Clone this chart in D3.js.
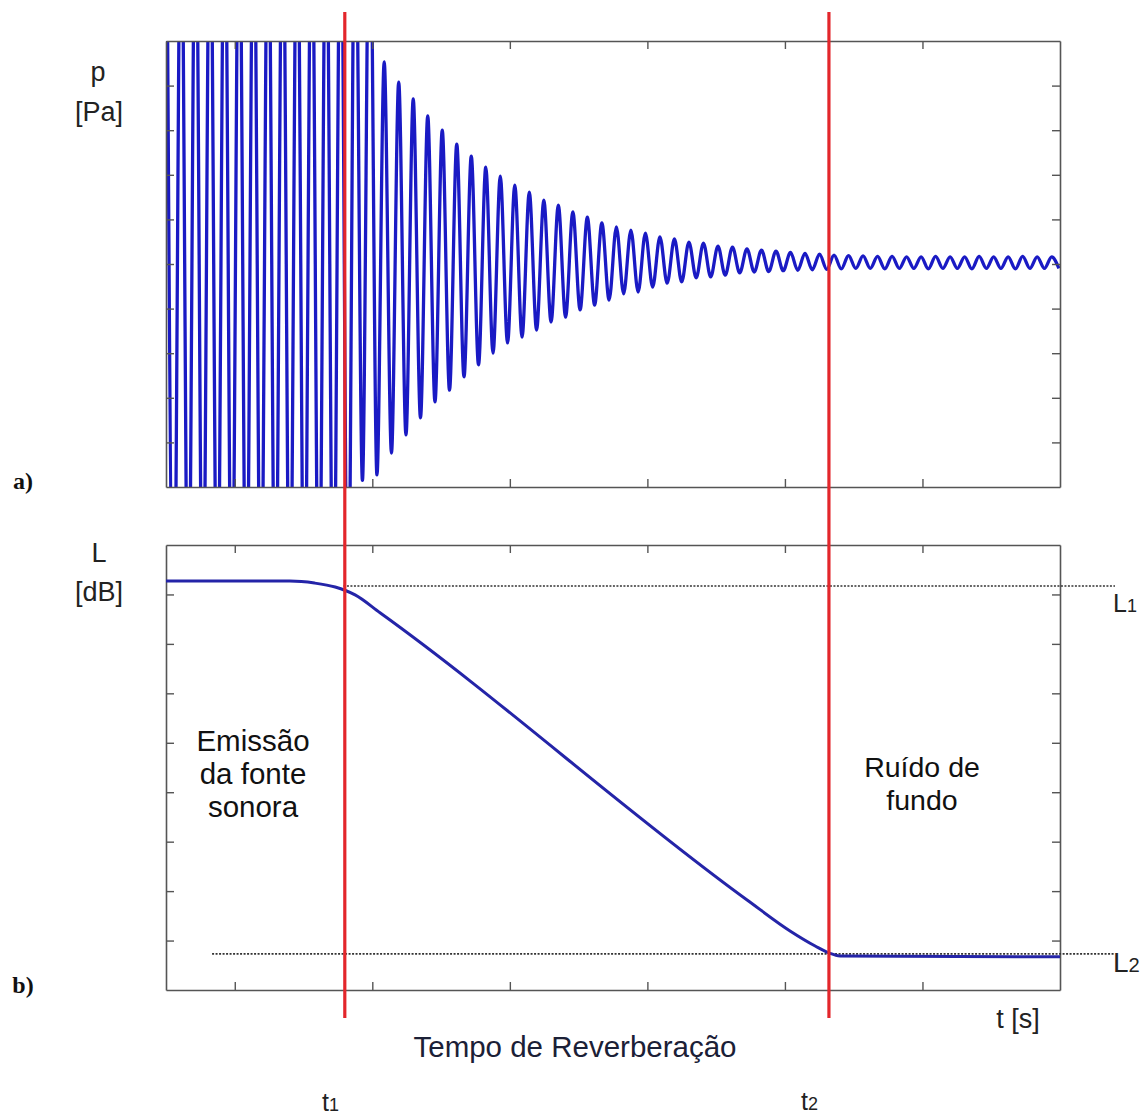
<!DOCTYPE html>
<html>
<head>
<meta charset="utf-8">
<script src="https://cdn.jsdelivr.net/npm/d3@7"></script>
<style>
  html, body { margin: 0; padding: 0; background: #fff; }
  text { font-family: "Liberation Sans", Arial, sans-serif; }
</style>
</head>
<body>
<div id="chart"></div>
<script>
// time axis ticks (shared by both panels)
const timeTicks = [0, 1, 2, 3, 4, 5];
const pressureTicks = [-4, -3, -2, -1, 0, 1, 2, 3, 4];
const levelTicks = [1, 2, 3, 4, 5, 6, 7, 8];

// instants marked by the red lines
const t1 = 0.80;
const t2 = 4.32;
// reference levels (dotted lines)
const levelL1 = 8.17;
const levelL2 = 0.73;

// oscillation: time of first crest and crest spacing
const crestStart = -0.496;
const crestSpacing = 0.1055;
// crest values (values past +/-5 are clipped by the frame)
const crestValues = [
  9, 9, 9, 9, 9, 9, 9, 9, 9, 9, 9, 9, 9, 9, 9,
  4.53, 4.08, 3.70, 3.32, 3.00, 2.69, 2.42, 2.17, 1.97, 1.77, 1.61, 1.43, 1.32,
  1.17, 1.05, 0.92, 0.83, 0.76, 0.69, 0.61, 0.56, 0.49, 0.47, 0.40, 0.38,
  0.34, 0.31, 0.29, 0.26, 0.24, 0.22, 0.20, 0.19, 0.18, 0.17, 0.17, 0.16,
  0.16, 0.17, 0.16, 0.16, 0.17, 0.16, 0.16, 0.17, 0.16, 0.16
];
// trough values, each half a spacing after its crest
const troughValues = [
  -9, -9, -9, -9, -9, -9, -9, -9, -9, -9, -9, -9, -9,
  -4.85, -4.73, -4.24, -3.83, -3.45, -3.09, -2.83, -2.53, -2.26, -2.00, -1.77,
  -1.64, -1.48, -1.30, -1.19, -1.03, -0.92, -0.81, -0.67, -0.63, -0.52, -0.43,
  -0.40, -0.31, -0.29, -0.25, -0.20,
  -0.18, -0.17, -0.15, -0.14, -0.13, -0.12, -0.11, -0.10, -0.10, -0.11, -0.10,
  -0.10, -0.11, -0.10, -0.10, -0.11, -0.10, -0.10, -0.11, -0.10, -0.10, -0.10
];

// sound level curve of panel b
const levelTimes  = [-0.5, 0.40, 0.58, 0.73, 0.875, 1.056, 3.725, 4.04, 4.22, 4.32, 4.40, 6.0];
const levelValues = [8.27, 8.27, 8.23, 8.15, 7.99, 7.63, 1.82, 1.19, 0.89, 0.75, 0.69, 0.67];

const W = 1142, H = 1117;
const svg = d3.select('#chart').append('svg')
  .attr('width', W).attr('height', H)
  .style('display', 'block');
svg.append('rect').attr('width', W).attr('height', H).attr('fill', '#fff');

const x = d3.scaleLinear().domain([-0.5, 6]).range([166, 1060]);
const ya = d3.scaleLinear().domain([-5, 5]).range([487, 41]);
const yb = d3.scaleLinear().domain([0, 9]).range([990, 545]);

const frameColor = '#555';

function frame(y, yTicks) {
  const g = svg.append('g');
  const [bottom, top] = y.range();
  g.append('g').attr('transform', `translate(0,${bottom})`)
    .call(d3.axisBottom(x).tickValues(timeTicks).tickSize(-8).tickSizeOuter(0).tickFormat(''));
  g.append('g').attr('transform', `translate(0,${top})`)
    .call(d3.axisTop(x).tickValues(timeTicks).tickSize(-8).tickSizeOuter(0).tickFormat(''));
  g.append('g').attr('transform', `translate(${x.range()[0]},0)`)
    .call(d3.axisLeft(y).tickValues(yTicks).tickSize(-8).tickSizeOuter(0).tickFormat(''));
  g.append('g').attr('transform', `translate(${x.range()[1]},0)`)
    .call(d3.axisRight(y).tickValues(yTicks).tickSize(-8).tickSizeOuter(0).tickFormat(''));
  g.selectAll('path.domain').attr('stroke', frameColor).attr('stroke-width', 1.6);
  g.selectAll('.tick line').attr('stroke', frameColor).attr('stroke-width', 1.4);
  return g;
}

// ---- panel a: pressure oscillation ----
svg.append('clipPath').attr('id', 'clipA')
  .append('rect')
  .attr('x', x.range()[0]).attr('y', ya.range()[1])
  .attr('width', x.range()[1] - x.range()[0])
  .attr('height', ya.range()[0] - ya.range()[1]);

const wave = [];
crestValues.forEach((v, i) => {
  wave.push({ t: crestStart + i * crestSpacing, p: v });
  wave.push({ t: crestStart + (i + 0.5) * crestSpacing, p: troughValues[i] });
});

svg.append('path')
  .datum(wave)
  .attr('clip-path', 'url(#clipA)')
  .attr('fill', 'none')
  .attr('stroke', '#1a1ac4')
  .attr('stroke-width', 3.3)
  .attr('d', d3.line().x(d => x(d.t)).y(d => ya(d.p)).curve(d3.curveMonotoneX));

frame(ya, pressureTicks);

// ---- panel b: sound level ----
frame(yb, levelTicks);

const dotted = [
  { from: t1 - 0.01, to: 6.40, level: levelL1 },
  { from: -0.165, to: 6.40, level: levelL2 }
];
svg.append('g').selectAll('line').data(dotted).enter().append('line')
  .attr('x1', d => x(d.from)).attr('x2', d => x(d.to))
  .attr('y1', d => yb(d.level)).attr('y2', d => yb(d.level))
  .attr('stroke', '#333').attr('stroke-width', 1.6)
  .attr('stroke-dasharray', '2,1.5');

const levelData = levelTimes.map((t, i) => ({ t, L: levelValues[i] }));
svg.append('path')
  .datum(levelData)
  .attr('fill', 'none')
  .attr('stroke', '#2424a8')
  .attr('stroke-width', 3)
  .attr('d', d3.line().x(d => x(d.t)).y(d => yb(d.L)).curve(d3.curveMonotoneX));

// ---- red markers ----
svg.append('g').selectAll('line').data([t1, t2]).enter().append('line')
  .attr('x1', d => x(d)).attr('x2', d => x(d))
  .attr('y1', 12).attr('y2', 1018)
  .attr('stroke', '#e3262b').attr('stroke-width', 3.2);

// ---- text ----
const txt = (s, px, py, opts = {}) => svg.append('text')
  .attr('x', px).attr('y', py)
  .attr('text-anchor', opts.anchor || 'middle')
  .attr('font-size', opts.size || 28)
  .attr('fill', opts.fill || '#222')
  .style('font-family', opts.family || null)
  .style('font-weight', opts.weight || null)
  .text(s);

txt('p', 98, 81, { size: 27 });
txt('[Pa]', 99, 121, { size: 27 });
txt('L', 99, 562, { size: 27 });
txt('[dB]', 99, 601, { size: 27 });

txt('a)', 23, 489, { size: 24, weight: 'bold', family: '"Liberation Serif", serif', fill: '#111' });
txt('b)', 23, 993, { size: 24, weight: 'bold', family: '"Liberation Serif", serif', fill: '#111' });

txt('Emissão', 253, 751, { size: 29.5, fill: '#111' });
txt('da fonte', 253, 784, { size: 29.5, fill: '#111' });
txt('sonora', 253, 817, { size: 29.5, fill: '#111' });

txt('Ruído de', 922, 777, { size: 28.5, fill: '#111' });
txt('fundo', 922, 810, { size: 28.5, fill: '#111' });

txt('t [s]', 1018, 1028, { size: 27 });
txt('Tempo de Reverberação', 575, 1057, { size: 29.5, fill: '#1b2036' });

function subLabel(main, sub, px, py, size) {
  const t = svg.append('text').attr('x', px).attr('y', py)
    .attr('font-size', size).attr('fill', '#222');
  t.append('tspan').text(main);
  t.append('tspan').attr('font-size', size * 0.72).text(sub);
}
subLabel('t', '1', 322, 1111, 25);
subLabel('t', '2', 801, 1110, 25);
subLabel('L', '1', 1113, 612, 25);
subLabel('L', '2', 1113, 972, 28);
</script>
</body>
</html>
